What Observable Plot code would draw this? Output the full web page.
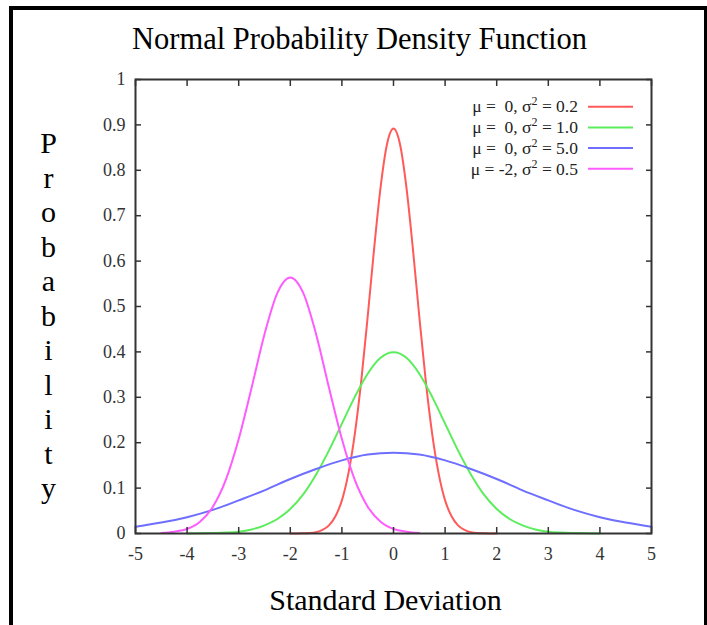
<!DOCTYPE html>
<html><head><meta charset="utf-8">
<script src="https://cdn.jsdelivr.net/npm/d3@7"></script>
<script src="https://cdn.jsdelivr.net/npm/@observablehq/plot@0.6"></script>
<style>
html,body{margin:0;padding:0;background:#fff;overflow:hidden}
#wrap{position:relative;width:707px;height:625px}
#border{position:absolute;left:9px;top:6px;right:0;height:640px;border:solid #000;border-width:4px 3px 0 4px;box-sizing:border-box;pointer-events:none}
</style></head><body><div id="wrap"><div id="border"></div></div>
<script>
const title = "Normal Probability Density Function";
const xLabel = "Standard Deviation";
const yLabel = "Probability";
const xTicks = [-5, -4, -3, -2, -1, 0, 1, 2, 3, 4, 5];
const xTickLabels = ["-5", "-4", "-3", "-2", "-1", "0", "1", "2", "3", "4", "5"];
const yTicks = [0, 0.1, 0.2, 0.3, 0.4, 0.5, 0.6, 0.7, 0.8, 0.9, 1];
const yTickLabels = ["0", "0.1", "0.2", "0.3", "0.4", "0.5", "0.6", "0.7", "0.8", "0.9", "1"];

const legendMu = ["0", "0", "0", "-2"];
const legendVar = ["0.2", "1.0", "5.0", "0.5"];
const seriesColors = ["#ff5a5a", "#5ced5c", "#6e6eff", "#ff5cff"];

// red: mu = 0, var = 0.2
const redX = [-2, -1.875, -1.75, -1.625, -1.5, -1.375, -1.25, -1.125, -1, -0.875, -0.75, -0.625, -0.5, -0.375, -0.25, -0.125, 0,
  0.125, 0.25, 0.375, 0.5, 0.625, 0.75, 0.875, 1, 1.125, 1.25, 1.375, 1.5, 1.625, 1.75, 1.875, 2];
const redY = [0, 0, 0.0004, 0.001, 0.003, 0.008, 0.018, 0.038, 0.073, 0.132, 0.219, 0.336, 0.478, 0.628, 0.763, 0.858, 0.892,
  0.858, 0.763, 0.628, 0.478, 0.336, 0.219, 0.132, 0.073, 0.038, 0.018, 0.008, 0.003, 0.001, 0.0004, 0, 0];
// green: mu = 0, var = 1.0
const greenX = [-4, -3.75, -3.5, -3.25, -3, -2.75, -2.5, -2.25, -2, -1.75, -1.5, -1.25, -1, -0.75, -0.5, -0.25, 0,
  0.25, 0.5, 0.75, 1, 1.25, 1.5, 1.75, 2, 2.25, 2.5, 2.75, 3, 3.25, 3.5, 3.75, 4];
const greenY = [0.0001, 0.0004, 0.001, 0.002, 0.004, 0.009, 0.018, 0.032, 0.054, 0.086, 0.130, 0.183, 0.242, 0.301, 0.352, 0.387, 0.399,
  0.387, 0.352, 0.301, 0.242, 0.183, 0.130, 0.086, 0.054, 0.032, 0.018, 0.009, 0.004, 0.002, 0.001, 0.0004, 0.0001];
// blue: mu = 0, var = 5.0
const blueX = [-5, -4.5, -4, -3.5, -3, -2.5, -2, -1.5, -1, -0.5, 0, 0.5, 1, 1.5, 2, 2.5, 3, 3.5, 4, 4.5, 5];
const blueY = [0.015, 0.024, 0.036, 0.052, 0.073, 0.095, 0.120, 0.142, 0.161, 0.174, 0.178,
  0.174, 0.161, 0.142, 0.120, 0.095, 0.073, 0.052, 0.036, 0.024, 0.015];
// magenta: mu = -2, var = 0.5
const magentaX = [-4.5, -4.25, -4, -3.75, -3.5, -3.25, -3, -2.75, -2.5, -2.25, -2, -1.75, -1.5, -1.25, -1, -0.75, -0.5, -0.25, 0, 0.25, 0.5];
const magentaY = [0.001, 0.004, 0.010, 0.026, 0.059, 0.118, 0.208, 0.321, 0.439, 0.530, 0.564,
  0.530, 0.439, 0.321, 0.208, 0.118, 0.059, 0.026, 0.010, 0.004, 0.001];

const seriesXs = [redX, greenX, blueX, magentaX];
const seriesYs = [redY, greenY, blueY, magentaY];

const serif = "'Liberation Serif', 'Times New Roman', serif";

const lineMarks = seriesXs.map((xs, k) =>
  Plot.line(xs.map((x, i) => ({x, y: seriesYs[k][i]})), {
    x: "x", y: "y", stroke: seriesColors[k], strokeWidth: 2, curve: "monotone-x"
  })
);

function legendMark(index, scales, values, dims) {
  const g = d3.create("svg:g");
  const right = dims.width - dims.marginRight;
  const top = dims.marginTop;
  legendMu.forEach((mu, i) => {
    const y = top + 27.7 + i * 20.7;
    g.append("line")
      .attr("x1", right - 63).attr("x2", right - 18)
      .attr("y1", y).attr("y2", y)
      .attr("stroke", seriesColors[i]).attr("stroke-width", 2);
    const t = g.append("text")
      .attr("x", right - 73).attr("y", y).attr("dy", "0.33em")
      .attr("text-anchor", "end")
      .attr("font-family", serif).attr("font-size", 17.5).attr("fill", "#222");
    t.append("tspan").text(`μ = ${mu === "-2" ? "" : " "}${mu}, σ`);
    t.append("tspan").attr("font-size", 12).attr("dy", -7).text("2");
    t.append("tspan").attr("dy", 7).text(` = ${legendVar[i]}`);
  });
  return g.node();
}

const chart = Plot.plot({
  width: 707,
  height: 625,
  marginLeft: 135,
  marginRight: 56,
  marginTop: 79,
  marginBottom: 92,
  x: {domain: [-5, 5]},
  y: {domain: [0, 1]},
  style: {fontFamily: serif, fontSize: "18px", color: "#333", background: "transparent"},
  marks: [
    ...lineMarks,
    Plot.frame({stroke: "#333", strokeWidth: 2}),
    Plot.axisX(xTicks, {anchor: "bottom", tickSize: -6, tickPadding: 20, strokeWidth: 1.5, label: null, fontSize: 18,
      tickFormat: d => xTickLabels[xTicks.indexOf(d)]}),
    Plot.axisX(xTicks, {anchor: "top", tickSize: -6, strokeWidth: 1.5, label: null, tickFormat: () => ""}),
    Plot.axisY(yTicks, {anchor: "left", tickSize: -6, tickPadding: 16, strokeWidth: 1.5, label: null, fontSize: 18,
      tickFormat: d => yTickLabels[yTicks.indexOf(d)]}),
    Plot.axisY(yTicks, {anchor: "right", tickSize: -6, strokeWidth: 1.5, label: null, tickFormat: () => ""}),
    Plot.text([title], {text: d => d, frameAnchor: "top", dx: -34, dy: -31, lineAnchor: "bottom",
      fontSize: 30.5, fill: "#000"}),
    Plot.text([xLabel], {text: d => d, frameAnchor: "bottom", dx: -8, dy: 76, lineAnchor: "bottom",
      fontSize: 30, fill: "#000"}),
    Plot.text([yLabel], {text: d => d.split("").join("\n"), frameAnchor: "left", dx: -87, dy: 8,
      lineAnchor: "middle", lineHeight: 1.15, textAnchor: "middle", fontSize: 30, fill: "#000"}),
    legendMark
  ]
});
document.getElementById("wrap").prepend(chart);
</script></body></html>
